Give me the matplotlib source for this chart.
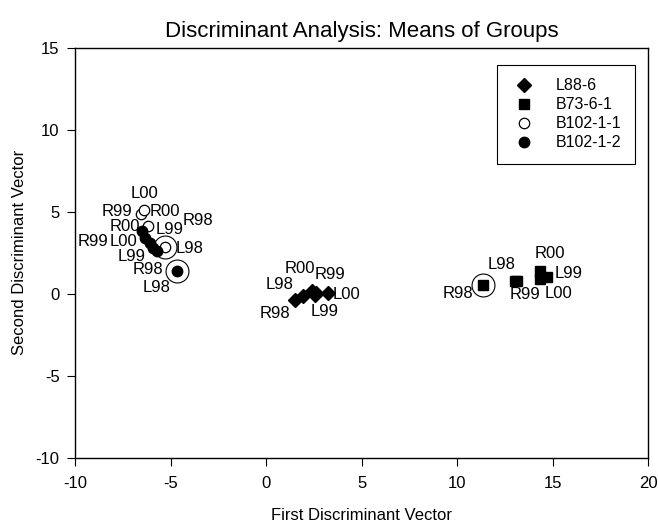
import matplotlib.pyplot as plt

plt.rcParams['font.family'] = ['Liberation Sans', 'DejaVu Sans']
plt.rcParams['axes.unicode_minus'] = False

# group means (first, second discriminant vector)
l88_x = [1.52, 1.95, 2.39, 2.62, 2.55, 3.26]
l88_y = [-0.37, -0.16, 0.14, 0.04, -0.05, 0.04]
b73_x = [11.38, 13.16, 13.05, 14.35, 14.70, 14.35]
b73_y = [0.55, 0.81, 0.78, 1.36, 1.02, 0.93]
b1021_x = [-6.56, -6.39, -6.16, -5.29]
b1021_y = [4.88, 5.08, 4.15, 2.88]
b1022_x = [-6.51, -6.34, -6.07, -5.92, -5.72, -4.64]
b1022_y = [3.80, 3.41, 3.10, 2.80, 2.58, 1.40]

# circled points
ring_x = [-5.29, -4.64, 11.38]
ring_y = [2.88, 1.40, 0.55]

# year/site labels
labels = [
    ("L00", -6.34, 6.14), ("R99", -7.80, 5.04), ("R00", -5.29, 5.04),
    ("R98", -3.56, 4.47), ("R00", -7.38, 4.10), ("L99", -5.03, 3.94),
    ("R99", -9.04, 3.19), ("L00", -7.47, 3.19), ("L98", -3.98, 2.78),
    ("L99", -7.03, 2.27), ("R98", -6.18, 1.46), ("L98", -5.72, 0.41),
    ("L98", 0.73, 0.55), ("R00", 1.78, 1.57), ("R99", 3.35, 1.16),
    ("L00", 4.23, -0.06), ("L99", 3.09, -1.08), ("R98", 0.47, -1.18),
    ("L98", 12.34, 1.77), ("R00", 14.87, 2.48), ("L99", 15.83, 1.22),
    ("L00", 15.30, 0.04), ("R99", 13.56, -0.06), ("R98", 10.07, 0.04),
]

fig = plt.figure(figsize=(6.58, 5.25), dpi=100)
ax = fig.add_axes([0.114, 0.128, 0.871, 0.781])

ax.plot(ring_x, ring_y, 'o', ms=16.5, mfc='white', mec='black', mew=0.8, ls='none')
ax.plot(l88_x, l88_y, 'D', ms=7.5, color='black', ls='none', label='L88-6')
ax.plot(b73_x, b73_y, 's', ms=7, color='black', ls='none', label='B73-6-1')
ax.plot(b1021_x, b1021_y, 'o', ms=7.5, mfc='white', mec='black', mew=0.9, ls='none', label='B102-1-1')
ax.plot(b1022_x, b1022_y, 'o', ms=7.5, color='black', ls='none', label='B102-1-2')

for txt, x, y in labels:
    ax.text(x, y, txt, fontsize=12, ha='center', va='center')

ax.set_xlim(-10, 20)
ax.set_ylim(-10, 15)
ax.set_xticks(range(-10, 21, 5))
ax.set_yticks(range(-10, 16, 5))
ax.tick_params(direction='out', length=6, labelsize=12, top=False, right=False)
ax.tick_params(axis='x', pad=7)
ax.tick_params(axis='y', pad=5)
for s in ax.spines.values():
    s.set_linewidth(1)

ax.set_title('Discriminant Analysis: Means of Groups', fontsize=16, pad=8)
ax.set_xlabel('First Discriminant Vector', fontsize=12, labelpad=12)
ax.set_ylabel('Second Discriminant Vector', fontsize=12, labelpad=6)

leg = ax.legend(loc='upper right', bbox_to_anchor=(0.977, 0.959), fancybox=False,
                edgecolor='black', fontsize=11.5, borderpad=0.85, handletextpad=1.2,
                labelspacing=0.25, framealpha=1, handlelength=1.6, borderaxespad=0)
leg.get_frame().set_linewidth(0.8)

fig.savefig('out.png', dpi=100)
